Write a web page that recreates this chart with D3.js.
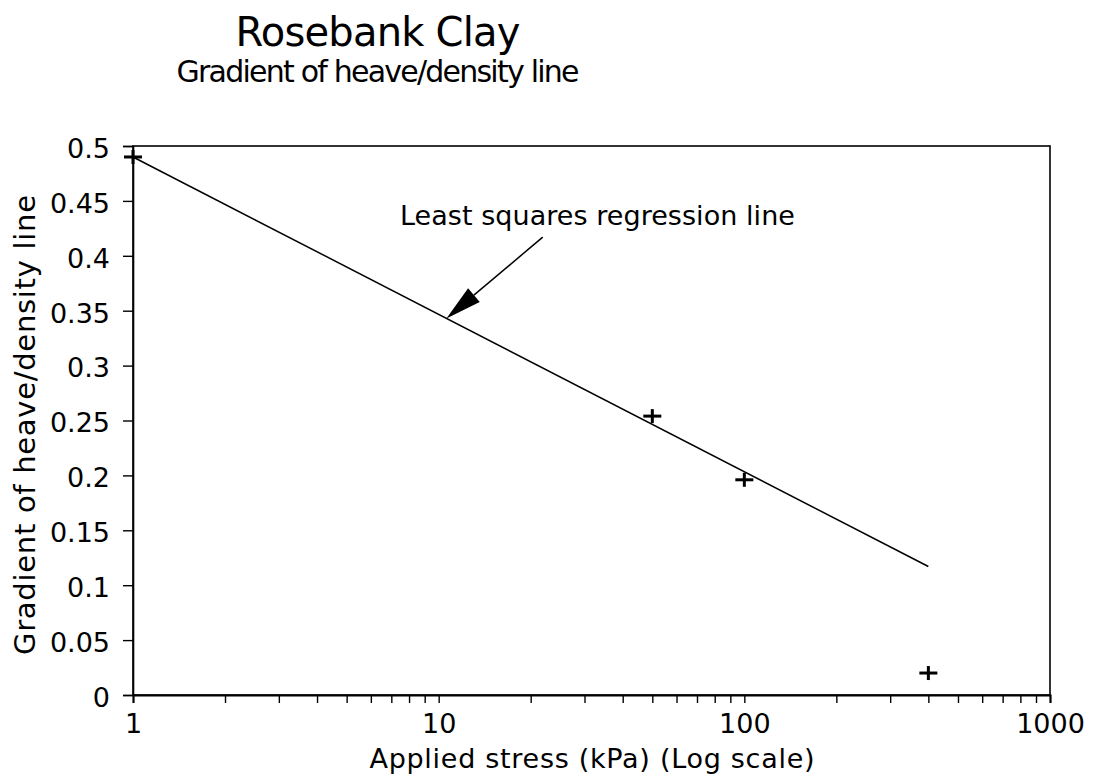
<!DOCTYPE html>
<html>
<head>
<meta charset="utf-8">
<script src="https://cdn.jsdelivr.net/npm/d3@7"></script>
<style>
  html, body { margin: 0; padding: 0; background: #fff; }
  svg { display: block; }
  text { font-family: "DejaVu Sans", "Liberation Sans", sans-serif; fill: #000; }
</style>
</head>
<body>
<div id="chart"></div>
<script>
/* Rosebank Clay — gradient of heave/density line vs applied stress */

// measured points (applied stress kPa, gradient)
const stress   = [1, 50, 100, 400];
const gradient = [0.49, 0.254, 0.196, 0.02];

// least squares regression line, end points
const fitStress   = [1, 400];
const fitGradient = [0.49, 0.117];

// axis ticks
const yTicks      = [0, 0.05, 0.1, 0.15, 0.2, 0.25, 0.3, 0.35, 0.4, 0.45, 0.5];
const yTickLabels = ['0', '0.05', '0.1', '0.15', '0.2', '0.25', '0.3', '0.35', '0.4', '0.45', '0.5'];
const xLabelTicks = [1, 10, 100, 1000];
const xTickLabels = ['1', '10', '100', '1000'];

// annotation: label anchor, arrow tail, arrow tip (data coords)
const noteText  = 'Least squares regression line';
const noteLabel = [7.47, 0.428];
const noteTail  = [21.9, 0.417];
const noteTip   = [10.6, 0.343];

const W = 1095, H = 779;
const plot = { left: 133, right: 1050, top: 146, bottom: 695 };

const svg = d3.select('#chart').append('svg')
  .attr('width', W).attr('height', H);

const x = d3.scaleLog().domain([1, 1000]).range([plot.left, plot.right]);
const y = d3.scaleLinear().domain([0, 0.5]).range([plot.bottom, plot.top]);

/* ── Titles ── */
svg.append('text')
  .attr('x', 378).attr('y', 46)
  .attr('text-anchor', 'middle')
  .attr('font-size', 40)
  .attr('font-family', '"Liberation Sans", sans-serif')
  .attr('textLength', 285)
  .text('Rosebank Clay');

svg.append('text')
  .attr('x', 378).attr('y', 82)
  .attr('text-anchor', 'middle')
  .attr('font-size', 30)
  .attr('font-family', '"Liberation Sans", sans-serif')
  .attr('textLength', 403)
  .text('Gradient of heave/density line');

/* ── Frame ── */
svg.append('rect')
  .attr('x', plot.left).attr('y', plot.top)
  .attr('width', plot.right - plot.left)
  .attr('height', plot.bottom - plot.top)
  .attr('fill', 'none')
  .attr('stroke', '#000')
  .attr('stroke-width', 1.6);

/* ── Y axis ── */
const yAxis = d3.axisLeft(y)
  .tickValues(yTicks)
  .tickSize(10)
  .tickFormat((d, i) => yTickLabels[i]);

const gy = svg.append('g')
  .attr('transform', `translate(${plot.left},0)`)
  .call(yAxis);
gy.select('.domain').attr('stroke-width', 1.6);
gy.selectAll('.tick line').attr('stroke-width', 1.4);
gy.selectAll('.tick text')
  .attr('x', -23)
  .attr('dy', '0.42em')
  .attr('font-size', 27)
  .attr('font-family', '"DejaVu Sans", sans-serif');

/* ── X axis (log) ── */
const minor = [];
for (let dec = 1; dec < 1000; dec *= 10) {
  for (let k = 1; k < 10; k++) minor.push(k * dec);
}
minor.push(1000);

const xAxis = d3.axisBottom(x)
  .tickValues(minor)
  .tickSize(8)
  .tickFormat(d => {
    const i = xLabelTicks.indexOf(d);
    return i >= 0 ? xTickLabels[i] : '';
  });

const gx = svg.append('g')
  .attr('transform', `translate(0,${plot.bottom})`)
  .call(xAxis);
gx.select('.domain').attr('stroke-width', 2);
gx.selectAll('.tick line').attr('stroke-width', 1.4);
gx.selectAll('.tick text')
  .attr('y', 38)
  .attr('dy', 0)
  .attr('font-size', 27)
  .attr('font-family', '"DejaVu Sans", sans-serif');

/* ── Axis titles ── */
svg.append('text')
  .attr('x', 592).attr('y', 768)
  .attr('text-anchor', 'middle')
  .attr('font-size', 27)
  .attr('textLength', 445)
  .text('Applied stress (kPa) (Log scale)');

svg.append('text')
  .attr('transform', 'translate(35,425) rotate(-90)')
  .attr('text-anchor', 'middle')
  .attr('font-size', 29)
  .attr('textLength', 460)
  .text('Gradient of heave/density line');

/* ── Regression line ── */
const line = d3.line()
  .x(d => x(d[0]))
  .y(d => y(d[1]));

svg.append('path')
  .datum(d3.zip(fitStress, fitGradient))
  .attr('d', line)
  .attr('fill', 'none')
  .attr('stroke', '#000')
  .attr('stroke-width', 1.5);

/* ── Data points (+ markers) ── */
const pts = svg.append('g')
  .selectAll('g')
  .data(d3.zip(stress, gradient))
  .join('g')
  .attr('transform', d => `translate(${x(d[0])},${y(d[1])})`);

pts.append('line')
  .attr('x1', -9).attr('x2', 9)
  .attr('stroke', '#000').attr('stroke-width', 3);
pts.append('line')
  .attr('y1', -7).attr('y2', 7)
  .attr('stroke', '#000').attr('stroke-width', 3);

/* ── Annotation with arrow ── */
svg.append('text')
  .attr('x', x(noteLabel[0])).attr('y', y(noteLabel[1]))
  .attr('font-size', 27)
  .attr('textLength', 395)
  .text(noteText);

const tx = x(noteTail[0]), ty = y(noteTail[1]);
const hx = x(noteTip[0]),  hy = y(noteTip[1]);
const ang = Math.atan2(hy - ty, hx - tx);
const headLen = 36, headHalf = 9;
const bx = hx - headLen * Math.cos(ang), by = hy - headLen * Math.sin(ang);

svg.append('line')
  .attr('x1', tx).attr('y1', ty)
  .attr('x2', bx).attr('y2', by)
  .attr('stroke', '#000').attr('stroke-width', 1.5);

svg.append('path')
  .attr('d', d3.line()([
    [hx, hy],
    [bx + headHalf * Math.sin(ang), by - headHalf * Math.cos(ang)],
    [bx - headHalf * Math.sin(ang), by + headHalf * Math.cos(ang)]
  ]) + 'Z')
  .attr('fill', '#000');
</script>
</body>
</html>
